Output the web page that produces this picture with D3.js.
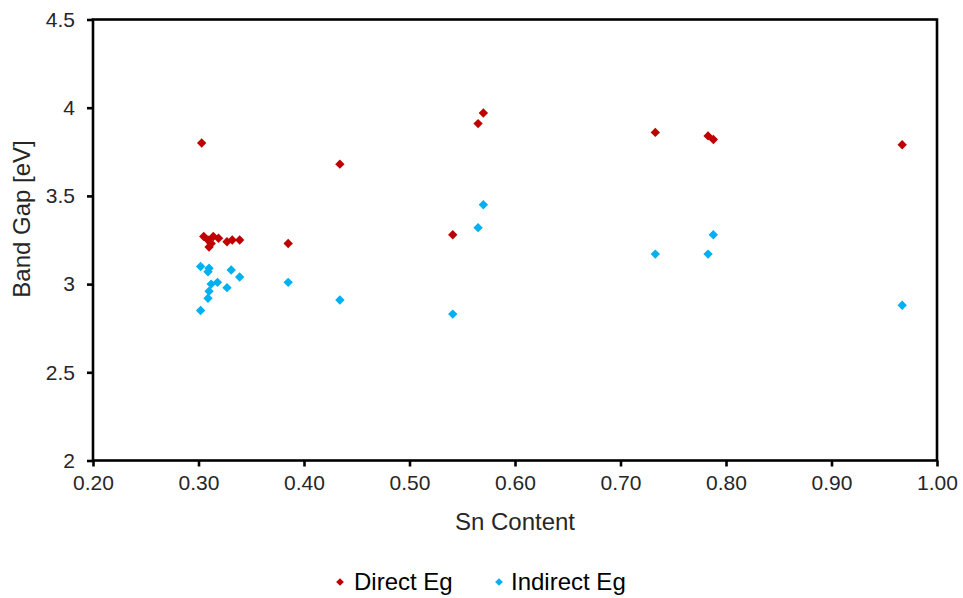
<!DOCTYPE html>
<html>
<head>
<meta charset="utf-8">
<script src="https://cdn.jsdelivr.net/npm/d3@7"></script>
<style>
  html, body { margin: 0; padding: 0; background: #fff; }
  svg { display: block; font-family: "Liberation Sans", Arial, sans-serif; }
</style>
</head>
<body>
<svg id="chart" width="963" height="598"></svg>
<script>
// Sn content and band gaps for each sample
const directSn = [0.303, 0.305, 0.309, 0.310, 0.312, 0.314, 0.319, 0.327, 0.332, 0.339,
                  0.385, 0.434, 0.541, 0.565, 0.570, 0.733, 0.783, 0.788, 0.967];
const directEg = [3.80, 3.27, 3.25, 3.21, 3.23, 3.27, 3.26, 3.24, 3.25, 3.25,
                  3.23, 3.68, 3.28, 3.91, 3.97, 3.86, 3.84, 3.82, 3.79];

const indirectSn = [0.302, 0.310, 0.309, 0.331, 0.339, 0.312, 0.318, 0.327, 0.310, 0.309,
                    0.302, 0.385, 0.434, 0.541, 0.565, 0.570, 0.733, 0.783, 0.788, 0.967];
const indirectEg = [3.10, 3.09, 3.07, 3.08, 3.04, 3.00, 3.01, 2.98, 2.96, 2.92,
                    2.85, 3.01, 2.91, 2.83, 3.32, 3.45, 3.17, 3.17, 3.28, 2.88];

const xTicks = [0.20, 0.30, 0.40, 0.50, 0.60, 0.70, 0.80, 0.90, 1.00];
const yTicks = [2, 2.5, 3, 3.5, 4, 4.5];

const seriesNames = ["Direct Eg", "Indirect Eg"];
const seriesColors = ["#C00000", "#00B0F0"];

const svg = d3.select("#chart");
const plot = { left: 93, right: 937, top: 19.5, bottom: 460.5 };

const x = d3.scaleLinear().domain([0.2, 1.0]).range([plot.left, plot.right]);
const y = d3.scaleLinear().domain([2, 4.5]).range([plot.bottom, plot.top]);

// frame
svg.append("rect")
  .attr("x", plot.left).attr("y", plot.top)
  .attr("width", plot.right - plot.left).attr("height", plot.bottom - plot.top)
  .attr("fill", "none").attr("stroke", "#000").attr("stroke-width", 2.6);

// x axis
const xAxis = svg.append("g")
  .attr("transform", `translate(0,${plot.bottom})`)
  .call(d3.axisBottom(x).tickValues(xTicks).tickFormat(d3.format(".2f")).tickSize(6).tickPadding(9));
xAxis.select(".domain").remove();
xAxis.selectAll(".tick line").attr("stroke", "#000").attr("stroke-width", 2.6);
xAxis.selectAll(".tick text").attr("font-size", 21).attr("fill", "#262626")
  .attr("font-family", "Liberation Sans, Arial, sans-serif");

// y axis
const yAxis = svg.append("g")
  .attr("transform", `translate(${plot.left},0)`)
  .call(d3.axisLeft(y).tickValues(yTicks).tickFormat(d => String(d)).tickSize(6).tickPadding(12));
yAxis.select(".domain").remove();
yAxis.selectAll(".tick line").attr("stroke", "#000").attr("stroke-width", 2.6);
yAxis.selectAll(".tick text").attr("font-size", 21).attr("fill", "#262626")
  .attr("font-family", "Liberation Sans, Arial, sans-serif");

// axis titles
svg.append("text")
  .attr("x", (plot.left + plot.right) / 2).attr("y", 530)
  .attr("text-anchor", "middle").attr("font-size", 24).attr("fill", "#262626")
  .text("Sn Content");

svg.append("text")
  .attr("transform", "translate(30,219) rotate(-90)")
  .attr("text-anchor", "middle").attr("font-size", 24).attr("fill", "#262626")
  .text("Band Gap [eV]");

// markers
const diamond = d3.symbol().type(d3.symbolDiamond2).size(56);

function drawSeries(xs, ys, color) {
  svg.append("g").selectAll("path")
    .data(xs.map((v, i) => [v, ys[i]]))
    .join("path")
    .attr("d", diamond)
    .attr("transform", d => `translate(${x(d[0])},${y(d[1])})`)
    .attr("fill", color);
}
drawSeries(indirectSn, indirectEg, seriesColors[1]);
drawSeries(directSn, directEg, seriesColors[0]);

// legend
const legendItems = [
  { name: seriesNames[0], color: seriesColors[0], mx: 340, tx: 354 },
  { name: seriesNames[1], color: seriesColors[1], mx: 499, tx: 511 }
];
const legend = svg.append("g");
legendItems.forEach(it => {
  legend.append("path")
    .attr("d", d3.symbol().type(d3.symbolDiamond2).size(38))
    .attr("transform", `translate(${it.mx},582)`)
    .attr("fill", it.color);
  legend.append("text")
    .attr("x", it.tx).attr("y", 590)
    .attr("font-size", 24).attr("fill", "#000")
    .text(it.name);
});
</script>
</body>
</html>
